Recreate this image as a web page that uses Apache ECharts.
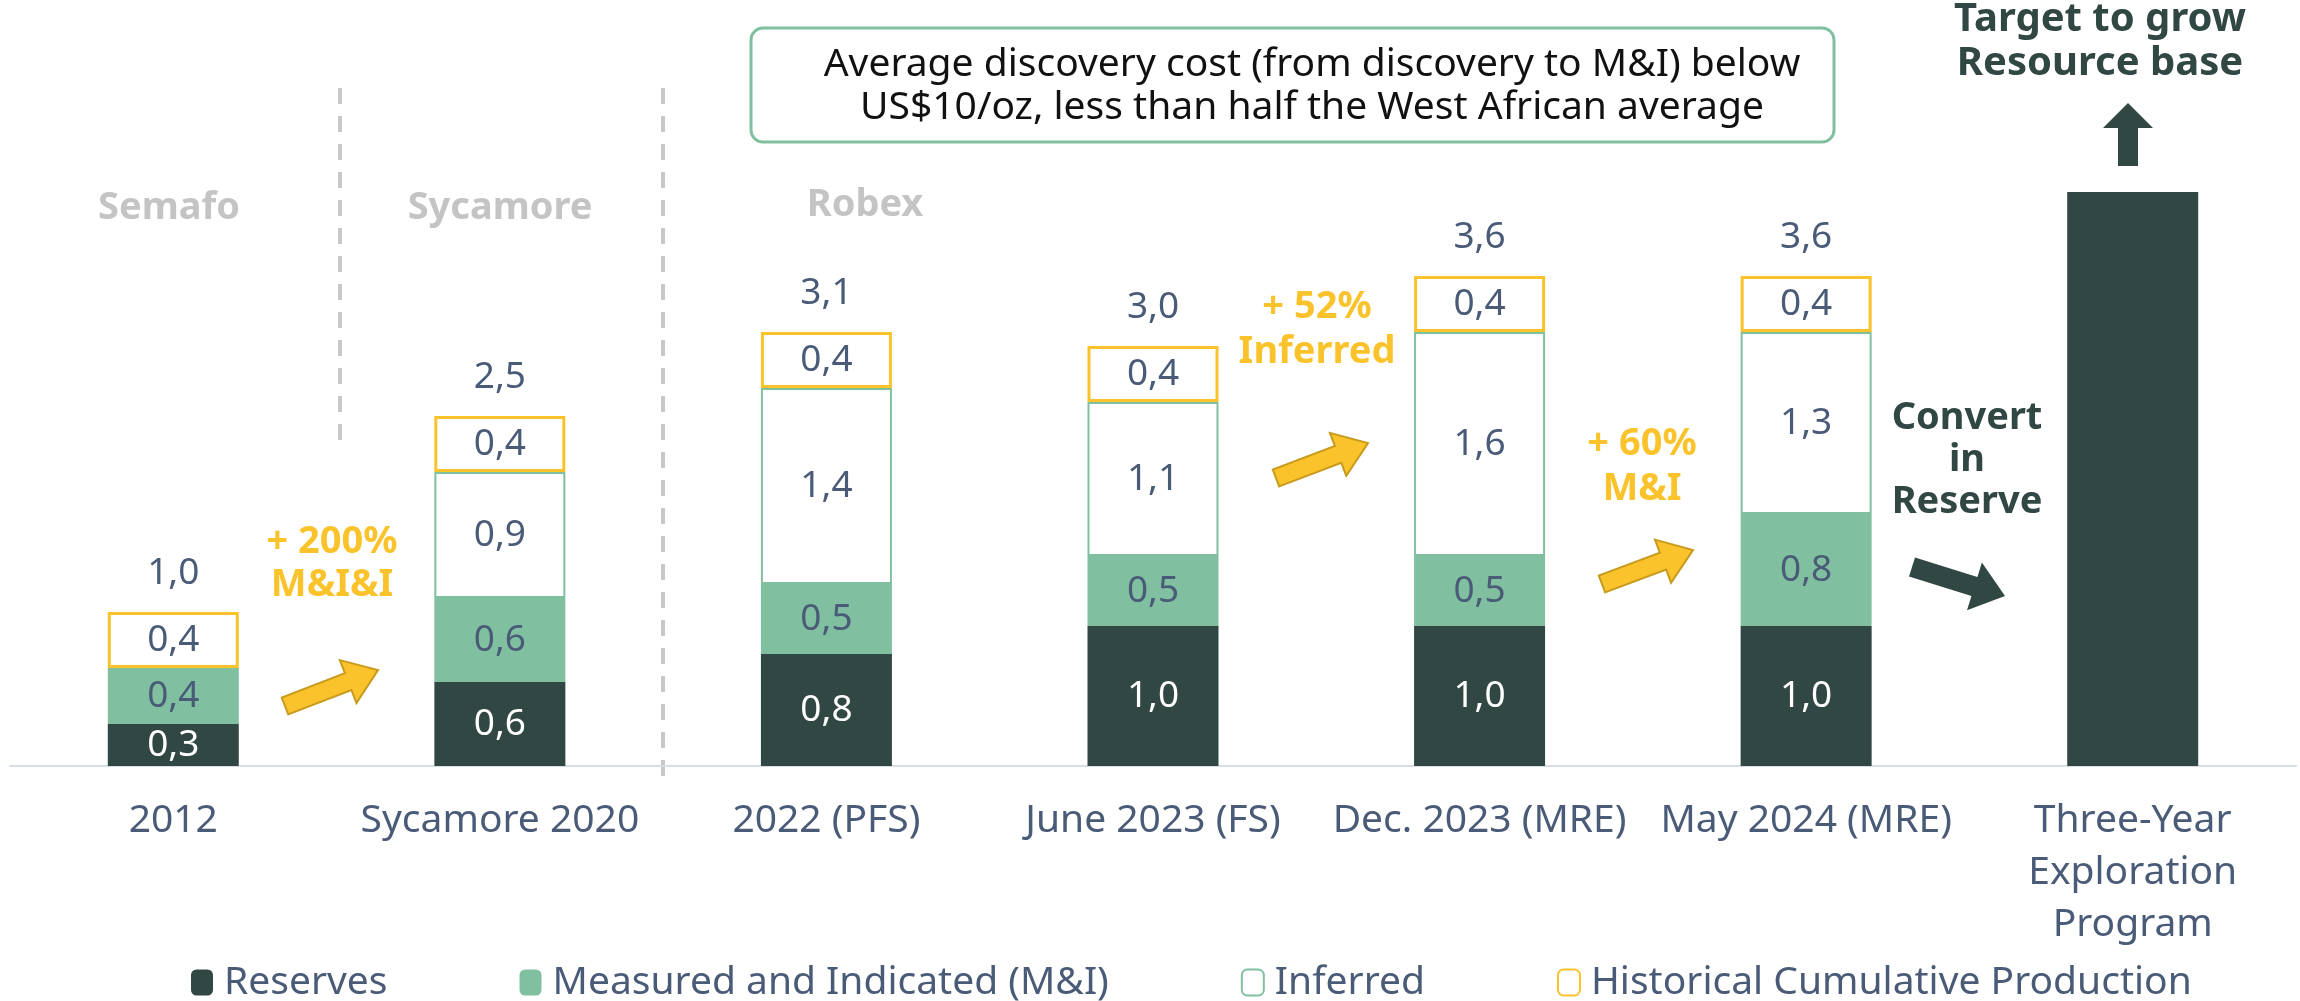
<!DOCTYPE html>
<html>
<head>
<meta charset="utf-8">
<script src="https://cdn.jsdelivr.net/npm/echarts@6/dist/echarts.min.js"></script>
<style>
  html, body { margin: 0; padding: 0; background: #fff; }
  #chart { width: 2300px; height: 1001px; }
</style>
</head>
<body>
<div id="chart"></div>
<script>
var categories = ['2012', 'Sycamore 2020', '2022 (PFS)', 'June 2023 (FS)', 'Dec. 2023 (MRE)', 'May 2024 (MRE)', 'Three-Year\nExploration\nProgram'];
var reserves = [0.3, 0.6, 0.8, 1.0, 1.0, 1.0, '-'];
var measuredIndicated = [0.4, 0.6, 0.5, 0.5, 0.5, 0.8, '-'];
var inferred = ['-', 0.9, 1.4, 1.1, 1.6, 1.3, '-'];
var historical = [0.4, 0.4, 0.4, 0.4, 0.4, 0.4, '-'];
var totals = [1.0, 2.5, 3.1, 3.0, 3.6, 3.6, null];
var target = ['-', '-', '-', '-', '-', '-', 4.1];

var DARK = '#314743';
var GREEN = '#80c0a0';
var YELLOW = '#fbc32b';
var SLATE = '#4a5b78';
var FONT = '"Noto Sans", sans-serif';

function fmt(v) {
    if (v == null || v === '-') return '';
    return Number(v).toFixed(1).replace('.', ',');
}

// block arrow polygon from tail to tip
function arrow(tail, tip, shaft, head, headLen) {
    var dx = tip[0] - tail[0], dy = tip[1] - tail[1];
    var len = Math.sqrt(dx * dx + dy * dy);
    var ux = dx / len, uy = dy / len, nx = -uy, ny = ux;
    var bx = tip[0] - ux * headLen, by = tip[1] - uy * headLen;
    var s = shaft / 2, h = head / 2;
    return [
        [tail[0] + nx * s, tail[1] + ny * s],
        [bx + nx * s, by + ny * s],
        [bx + nx * h, by + ny * h],
        tip,
        [bx - nx * h, by - ny * h],
        [bx - nx * s, by - ny * s],
        [tail[0] - nx * s, tail[1] - ny * s]
    ];
}

function yellowArrow(tail, tip) {
    return {
        type: 'polygon', z: 100,
        shape: { points: arrow(tail, tip, 18, 46, 32) },
        style: { fill: YELLOW, stroke: '#c89b1c', lineWidth: 2 }
    };
}

function label(text, x, y, color, lh, size) {
    return {
        type: 'text', x: x, y: y, z: 100,
        style: {
            text: text, fill: color, font: 'bold ' + (size || 38) + 'px ' + FONT,
            align: 'center', verticalAlign: 'middle', lineHeight: lh
        }
    };
}

var chart = echarts.init(document.getElementById('chart'));

var segLabel = function (color) {
    return {
        show: true, position: 'inside', color: color,
        fontFamily: FONT, fontSize: 37,
        formatter: function (p) { return fmt(p.value); }
    };
};

var option = {
    animation: false,
    backgroundColor: '#fff',
    grid: { left: 10, right: 4, top: 66, bottom: 235 },
    legend: {
        data: ['Reserves', 'Measured and Indicated (M&I)', 'Inferred', 'Historical Cumulative Production'],
        left: 191, top: 963,
        itemWidth: 22, itemHeight: 26, itemGap: 132,
        padding: 0,
        textStyle: { color: SLATE, fontFamily: FONT, fontSize: 39, padding: [0, 0, 0, 6] }
    },
    xAxis: {
        type: 'category',
        data: categories,
        axisLine: { lineStyle: { color: '#d8dde5', width: 2 } },
        axisTick: { show: false },
        axisLabel: { color: SLATE, fontFamily: FONT, fontSize: 39, lineHeight: 52, margin: 29, interval: 0 }
    },
    yAxis: { type: 'value', min: 0, max: 5, show: false, splitLine: { show: false } },
    series: [
        {
            name: 'Reserves', type: 'bar', stack: 'a', barWidth: 131, data: reserves,
            itemStyle: { color: DARK },
            label: segLabel('#ffffff')
        },
        {
            name: 'Measured and Indicated (M&I)', type: 'bar', stack: 'a', data: measuredIndicated,
            itemStyle: { color: GREEN },
            label: segLabel(SLATE)
        },
        {
            name: 'Inferred', type: 'bar', stack: 'a', data: inferred,
            itemStyle: { color: '#ffffff', borderColor: GREEN, borderWidth: 2 },
            label: segLabel(SLATE)
        },
        {
            name: 'Historical Cumulative Production', type: 'bar', stack: 'a', data: historical,
            itemStyle: { color: '#ffffff', borderColor: YELLOW, borderWidth: 3 },
            label: segLabel(SLATE)
        },
        {
            name: 'Target', type: 'bar', stack: 'a', data: target,
            itemStyle: { color: DARK }
        },
        {
            name: 'Total', type: 'bar', stack: 'a',
            data: totals.map(function (t) { return t == null ? '-' : 0; }),
            itemStyle: { color: 'rgba(0,0,0,0)' },
            label: {
                show: true, position: 'top', distance: 20, color: SLATE,
                fontFamily: FONT, fontSize: 37,
                formatter: function (p) { return fmt(totals[p.dataIndex]); }
            }
        }
    ],
    graphic: [
        // separators between owners
        { type: 'line', shape: { x1: 340, y1: 88, x2: 340, y2: 440 }, style: { stroke: '#c8c8c8', lineWidth: 4, lineDash: [16, 12] } },
        { type: 'line', shape: { x1: 663, y1: 88, x2: 663, y2: 778 }, style: { stroke: '#c8c8c8', lineWidth: 4, lineDash: [16, 12] } },
        label('Semafo', 169, 208, '#c4c4c4', 40, 38),
        label('Sycamore', 500, 208, '#c4c4c4', 40, 38),
        label('Robex', 865, 205, '#c4c4c4', 40, 38),
        // discovery cost box
        {
            type: 'rect', z: 90,
            shape: { x: 751, y: 28, width: 1083, height: 114, r: 12 },
            style: { fill: '#fff', stroke: GREEN, lineWidth: 3 }
        },
        {
            type: 'text', x: 1312, y: 86, z: 100,
            style: {
                text: 'Average discovery cost (from discovery to M&I) below\nUS$10/oz, less than half the West African average',
                fill: '#111', font: '39px ' + FONT, align: 'center', verticalAlign: 'middle', lineHeight: 43
            }
        },
        label('Target to grow\nResource base', 2100, 42, DARK, 44, 40),
        {
            type: 'polygon', z: 100,
            shape: { points: [[2128, 103], [2153, 128], [2138, 128], [2138, 166], [2118, 166], [2118, 128], [2103, 128]] },
            style: { fill: DARK }
        },
        label('+ 200%\nM&I&I', 332, 564, YELLOW, 43),
        label('+ 52%\nInferred', 1317, 330, YELLOW, 45),
        label('+ 60%\nM&I', 1642, 467, YELLOW, 45),
        label('Convert\nin\nReserve', 1967, 460, DARK, 42),
        yellowArrow([285, 706], [378, 670]),
        yellowArrow([1276, 478], [1368, 443]),
        yellowArrow([1602, 584], [1693, 550]),
        {
            type: 'polygon', z: 100,
            shape: { points: arrow([1912, 567], [2005, 596], 20, 50, 32) },
            style: { fill: DARK }
        }
    ]
};

chart.setOption(option);
</script>
</body>
</html>
